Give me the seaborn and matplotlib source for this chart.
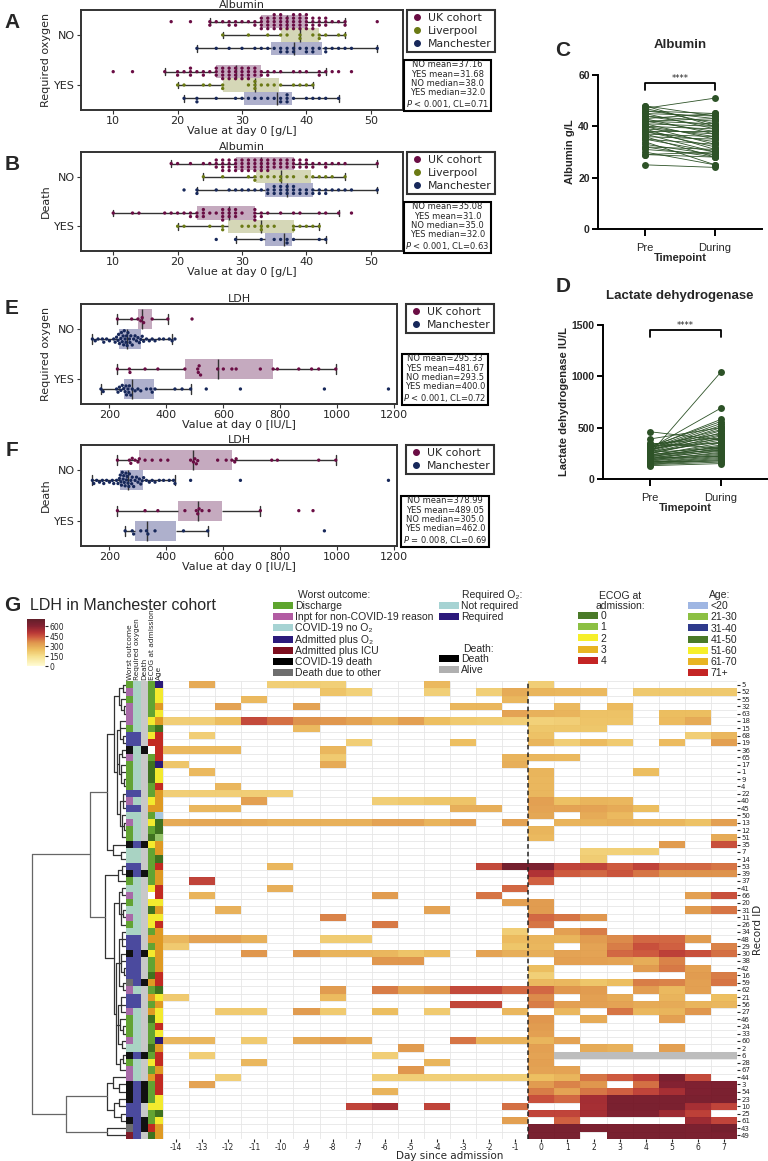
import numpy as np
import pandas as pd
import matplotlib
matplotlib.use('Agg')
import matplotlib.pyplot as plt
import seaborn as sns
from matplotlib.colors import LinearSegmentedColormap, ListedColormap
from matplotlib.patches import Patch
from matplotlib.lines import Line2D

sns.set_theme(style='ticks')
plt.rcParams['font.family'] = ['DejaVu Sans']

# ---------------- data: albumin day 0 (value: count) ----------------
alb_oxy = {
    ('NO', 'UK cohort'): {19: 1, 22: 1, 25: 2, 26: 1, 27: 1, 28: 2, 29: 2, 30: 1, 31: 1, 32: 2, 33: 4, 34: 4, 35: 5,
                          36: 5, 37: 4, 38: 5, 39: 5, 40: 5, 41: 4, 42: 3, 43: 3, 44: 1, 45: 1, 46: 2, 51: 1},
    ('NO', 'Liverpool'): {27: 1, 31: 1, 34: 1, 36: 1, 37: 1, 39: 2, 41: 1, 42: 2, 43: 1, 45: 1, 46: 1},
    ('NO', 'Manchester'): {23: 1, 26: 1, 28: 1, 30: 1, 32: 1, 33: 1, 34: 1, 35: 1, 36: 2, 37: 2, 38: 2, 39: 1, 40: 2,
                           41: 2, 42: 1, 43: 2, 44: 1, 45: 1, 46: 1, 47: 1, 51: 1},
    ('YES', 'UK cohort'): {10: 1, 13: 1, 18: 1, 20: 2, 21: 1, 22: 3, 23: 1, 24: 2, 25: 1, 26: 3, 27: 4, 28: 4, 29: 4,
                           30: 4, 31: 4, 32: 3, 33: 2, 34: 2, 35: 1, 36: 1, 38: 1, 39: 1, 40: 1, 42: 2, 43: 1, 44: 1,
                           45: 1, 47: 1},
    ('YES', 'Liverpool'): {20: 1, 21: 1, 24: 1, 25: 1, 27: 2, 31: 1, 32: 3, 33: 1, 34: 1, 35: 1, 36: 1, 38: 1, 39: 1,
                           40: 1, 41: 1},
    ('YES', 'Manchester'): {21: 1, 23: 2, 26: 1, 29: 1, 30: 1, 31: 1, 32: 1, 33: 1, 34: 1, 35: 1, 36: 2, 37: 3, 38: 1,
                            40: 1, 41: 1, 42: 1, 43: 1, 45: 1},
}
alb_death = {
    ('NO', 'UK cohort'): {19: 1, 20: 1, 22: 1, 24: 1, 25: 1, 26: 3, 27: 4, 28: 4, 29: 4, 30: 4, 31: 4, 32: 4, 33: 4,
                          34: 4, 35: 3, 36: 3, 37: 3, 38: 3, 39: 3, 40: 3, 41: 2, 42: 1, 43: 2, 44: 1, 45: 1, 46: 1, 51: 1},
    ('NO', 'Liverpool'): {24: 1, 27: 1, 31: 1, 32: 2, 33: 1, 34: 1, 35: 1, 36: 2, 37: 1, 38: 1, 40: 1, 41: 1, 42: 1,
                          43: 1, 44: 1, 46: 1},
    ('NO', 'Manchester'): {21: 1, 23: 2, 26: 1, 28: 1, 29: 1, 30: 1, 31: 1, 32: 1, 33: 1, 34: 2, 35: 3, 36: 3, 37: 3,
                           38: 3, 39: 2, 40: 2, 41: 2, 42: 2, 43: 2, 44: 1, 45: 1, 46: 1, 47: 1, 51: 1},
    ('YES', 'UK cohort'): {10: 1, 13: 1, 14: 1, 18: 1, 19: 1, 20: 1, 21: 1, 22: 2, 23: 2, 24: 3, 25: 1, 26: 1, 27: 4,
                           28: 3, 29: 3, 30: 1, 32: 4, 33: 2, 34: 1, 36: 1, 38: 1, 39: 1, 42: 1, 43: 1, 45: 1, 47: 1},
    ('YES', 'Liverpool'): {20: 1, 21: 1, 25: 1, 27: 2, 30: 1, 31: 1, 32: 1, 33: 2, 34: 1, 35: 1, 38: 2, 39: 1, 40: 1,
                           41: 1, 42: 1},
    ('YES', 'Manchester'): {26: 1, 29: 1, 33: 1, 35: 1, 36: 1, 37: 2, 38: 1, 42: 1, 43: 1},
}

# ---------------- data: LDH day 0 ----------------
ldh_oxy = {
    ('NO', 'UK cohort'): [228, 278, 300, 310, 315, 320, 350, 405, 490],
    ('NO', 'Manchester'): [140, 150, 160, 175, 180, 190, 200, 215, 220, 225, 230, 232, 235, 240, 242, 245, 248, 250,
                           252, 255, 258, 260, 262, 265, 270, 272, 275, 280, 285, 290, 295, 300, 305, 310, 315, 320,
                           330, 340, 350, 360, 375, 390, 410, 420, 430],
    ('YES', 'UK cohort'): [228, 270, 272, 325, 370, 465, 510, 512, 515, 520, 580, 600, 630, 645, 730, 775, 790, 865,
                           910, 935, 995],
    ('YES', 'Manchester'): [170, 178, 225, 230, 235, 240, 245, 250, 255, 258, 260, 265, 268, 270, 275, 280, 290, 300,
                            310, 330, 345, 350, 360, 430, 455, 485, 540, 660, 955, 1180],
}
ldh_death = {
    ('NO', 'UK cohort'): [228, 270, 275, 280, 290, 300, 305, 325, 350, 380, 405, 485, 495, 500, 505, 510, 580, 610,
                          630, 640, 645, 770, 790, 935, 995],
    ('NO', 'Manchester'): [140, 145, 155, 165, 175, 180, 190, 200, 210, 215, 225, 230, 235, 238, 240, 242, 245, 248,
                           250, 252, 255, 258, 260, 262, 265, 268, 270, 275, 278, 280, 285, 290, 295, 300, 305, 310,
                           315, 320, 330, 340, 350, 360, 375, 390, 410, 425, 430, 485, 660, 1180],
    ('YES', 'UK cohort'): [228, 325, 370, 465, 505, 510, 515, 525, 550, 730, 865, 915],
    ('YES', 'Manchester'): [255, 280, 285, 310, 330, 335, 360, 460, 545, 955],
}

stats_a = "NO mean=37.16\nYES mean=31.68\nNO median=38.0\nYES median=32.0\n$P$ < 0.001, CL=0.71"
stats_b = "NO mean=35.08\nYES mean=31.0\nNO median=35.0\nYES median=32.0\n$P$ < 0.001, CL=0.63"
stats_e = "NO mean=295.33\nYES mean=481.67\nNO median=293.5\nYES median=400.0\n$P$ < 0.001, CL=0.72"
stats_f = "NO mean=378.99\nYES mean=489.05\nNO median=305.0\nYES median=462.0\n$P$ = 0.008, CL=0.69"

# ---------------- data: paired pre / during ----------------
alb_pre = [25, 29, 29, 30, 31, 32, 32, 33, 34, 35, 35, 36, 36, 37, 37, 38, 38, 38, 39, 39, 40, 40, 40, 41, 41, 42,
           42, 42, 43, 43, 44, 44, 45, 45, 46, 46, 47, 47, 48, 48]
alb_during = [24, 28, 30, 25, 29, 28, 31, 29, 25, 30, 33, 28, 35, 30, 36, 32, 38, 34, 31, 37, 33, 39, 36, 40, 35, 38,
              43, 41, 37, 45, 40, 42, 39, 44, 43, 45, 51, 41, 40, 44]
ldh_pre = [130, 140, 145, 150, 155, 160, 165, 170, 175, 180, 185, 190, 195, 200, 205, 210, 215, 220, 225, 230, 235,
           240, 245, 250, 255, 260, 265, 270, 275, 280, 285, 290, 295, 300, 305, 310, 315, 320, 330, 340, 350, 390,
           460, 250, 300]
ldh_during = [150, 165, 180, 190, 200, 210, 220, 175, 230, 240, 260, 250, 280, 300, 220, 270, 320, 290, 310, 350, 330,
              280, 400, 380, 420, 300, 450, 360, 470, 500, 430, 520, 390, 540, 480, 580, 560, 350, 440, 400, 300, 500,
              380, 1040, 690]

# ---------------- data: LDH heatmap (Manchester) ----------------
days = list(range(-14, 8))
record_ids = [5, 52, 55, 32, 63, 18, 15, 68, 19, 36, 65, 17, 1, 9, 4, 22, 40, 45, 50, 13, 12, 51, 35, 7, 14, 53, 39,
              37, 41, 66, 20, 31, 11, 26, 34, 48, 29, 30, 38, 42, 16, 59, 62, 21, 56, 27, 46, 24, 33, 60, 2, 6, 28,
              67, 44, 3, 54, 23, 10, 25, 61, 43, 49]
ldh_cells = {
    5: {-13: 300, -10: 200, -9: 200, -8: 200, -4: 265, 0: 205},
    52: {-8: 235, -7: 195, -4: 200, -2: 200, -1: 300, 0: 275, 1: 270, 2: 265, 4: 220, 5: 220, 6: 220, 7: 220},
    55: {-11: 265, -1: 270},
    32: {-12: 320, -9: 320, -3: 270, -2: 270, 1: 265, 3: 260},
    63: {-1: 320, 0: 285, 1: 280, 2: 240, 3: 240, 5: 255, 6: 255},
    18: {-14: 205, -13: 205, -12: 255, -11: 470, -10: 410, -9: 360, -8: 350, -7: 320, -6: 280, -5: 330, -4: 250,
         -3: 215, -2: 210, -1: 205, 0: 195, 1: 205, 2: 235, 3: 235, 5: 260, 6: 300},
    15: {-9: 265, 0: 225, 1: 225, 2: 225},
    68: {-13: 205, 0: 240, 6: 205, 7: 270},
    19: {-7: 205, -3: 250, 0: 275, 1: 205, 2: 260, 3: 215, 5: 260, 7: 330},
    36: {-14: 265, -13: 265, -12: 265, -8: 270},
    65: {-8: 215, -1: 280, 0: 270, 1: 265},
    17: {-14: 230, -8: 300, -1: 290},
    1: {-13: 265, 0: 275, 4: 255},
    9: {0: 270},
    4: {-12: 270, 0: 270},
    22: {-14: 205, -13: 205, -12: 205, -11: 205, -10: 205, 0: 270},
    40: {-11: 330, -6: 205, -5: 215, -4: 230, -3: 235, 0: 330, 1: 245, 2: 275, 3: 270},
    45: {-13: 270, -12: 270, -3: 290, -2: 290, 0: 320, 1: 320, 2: 320, 3: 300, 4: 255},
    50: {0: 310, 2: 300, 3: 265},
    13: {-14: 300, -13: 310, -12: 310, -11: 300, -10: 285, -9: 285, -8: 285, -7: 285, -6: 320, -5: 320, -4: 280,
         -3: 330, -1: 320, 1: 280, 2: 280, 3: 285, 4: 275, 5: 270, 6: 240, 7: 330},
    12: {0: 275},
    51: {0: 265, 7: 300},
    35: {5: 340, 7: 460},
    7: {2: 195, 3: 195, 4: 200},
    14: {2: 210},
    53: {-10: 270, -2: 470, -1: 650, 0: 630, 1: 480, 2: 485, 3: 440, 4: 480, 5: 420, 6: 420, 7: 400},
    39: {0: 520, 1: 440, 2: 420, 3: 450, 4: 400, 5: 360, 6: 360, 7: 360},
    37: {-13: 480, 0: 430},
    41: {-10: 290, -1: 420},
    66: {-13: 280, -6: 340, -2: 400, 6: 330, 7: 460},
    20: {-1: 330, 0: 340},
    31: {-12: 285, -4: 320, 0: 340, 6: 340, 7: 400},
    11: {-8: 380, 0: 420, 1: 400, 2: 350},
    26: {-6: 395, 0: 400},
    34: {-1: 205, 1: 330, 2: 390},
    48: {-14: 270, -13: 320, -12: 320, -11: 285, -8: 210, -7: 210, -1: 260, 0: 280, 1: 275, 2: 340, 3: 370,
         4: 420, 5: 420, 6: 340},
    29: {-14: 215, -1: 230, 0: 270, 2: 320, 3: 390, 4: 460, 5: 430, 7: 380},
    30: {-11: 350, -9: 345, -8: 280, -7: 280, -6: 270, -5: 235, -4: 260, -2: 320, -1: 290, 0: 290, 1: 320, 2: 320,
         3: 420, 4: 440, 5: 490, 6: 460, 7: 410},
    38: {-6: 350, -5: 350, 1: 330, 2: 330, 3: 320, 4: 295, 5: 380},
    42: {0: 255, 4: 340, 5: 395, 6: 330},
    16: {0: 200, 6: 340, 7: 390},
    59: {0: 265, 1: 270, 2: 230, 3: 255, 4: 390, 5: 380, 6: 330, 7: 400},
    62: {-8: 340, -6: 390, -5: 320, -4: 350, -3: 470, -2: 470, -1: 420, 0: 420, 1: 350, 2: 340, 4: 335, 5: 265,
         6: 330},
    21: {-14: 215, -8: 260, 0: 370, 2: 330, 3: 300, 5: 280, 7: 250},
    56: {-3: 475, -2: 475, 0: 390, 1: 330, 2: 330, 3: 320, 4: 300, 5: 300, 6: 275, 7: 270},
    27: {-12: 215, -11: 215, -9: 340, -8: 215, -6: 255, -4: 215, -1: 270, 1: 270, 3: 400, 4: 270, 5: 275, 6: 350},
    46: {0: 350, 2: 300, 5: 330},
    24: {0: 340},
    33: {0: 330},
    60: {-14: 270, -13: 270, -11: 215, -9: 300, -8: 330, -7: 300, -3: 400, -2: 280, -1: 280, 0: 275, 1: 320},
    2: {-5: 340, 0: 330, 2: 300, 3: 285, 5: 330},
    6: {-13: 205, -6: 205, 0: 320},
    28: {-11: 270, -4: 275, 0: 330},
    67: {-5: 350, 0: 320, 1: 320},
    44: {-12: 205, -6: 200, -5: 200, -4: 200, -3: 200, -2: 200, -1: 200, 0: 250, 1: 275, 2: 400, 3: 440, 4: 490,
         5: 630, 6: 470},
    3: {-13: 320, 0: 340, 1: 380, 2: 350, 4: 410, 5: 610, 6: 620, 7: 625},
    54: {-6: 280, 0: 390, 1: 320, 2: 400, 3: 430, 4: 480, 5: 540, 6: 620, 7: 630},
    23: {0: 460, 1: 420, 2: 545, 3: 630, 4: 630, 5: 630, 6: 630, 7: 630},
    10: {-7: 480, -6: 540, -4: 480, -1: 410, 2: 540, 3: 635, 4: 635, 5: 630, 6: 540, 7: 480},
    25: {0: 480, 1: 480, 2: 545, 3: 620, 4: 620, 5: 560, 6: 490},
    61: {-1: 330, 1: 430, 6: 560, 7: 480},
    43: {0: 640, 1: 640, 2: 630, 3: 630, 4: 640, 5: 640, 6: 630, 7: 650},
    49: {0: 640, 1: 640, 3: 640, 4: 640, 5: 640, 6: 630, 7: 630},
}
ldh_grey_cells = {6: [1, 2, 3, 4, 5, 6, 7]}

worst_outcome = ['Dis', 'Inpt', 'Dis', 'Inpt', 'Inpt', 'Inpt', 'Dis', 'O2', 'O2', 'Death', 'Inpt', 'Dis', 'Dis', 'Dis',
                 'Dis', 'O2', 'Inpt', 'O2', 'NoO2', 'Inpt', 'Dis', 'Dis', 'Death', 'NoO2', 'NoO2', 'O2', 'Death', 'Dis',
                 'NoO2', 'Inpt', 'Dis', 'NoO2', 'Inpt', 'Dis', 'NoO2', 'O2', 'O2', 'Death', 'O2', 'O2', 'O2', 'Other',
                 'Inpt', 'O2', 'O2', 'Inpt', 'Dis', 'Dis', 'Dis', 'Inpt', 'NoO2', 'Death', 'Dis', 'Inpt', 'Inpt',
                 'Death', 'Death', 'Death', 'O2', 'O2', 'Death', 'Other', 'ICU']
required_o2 = ['N', 'N', 'N', 'N', 'N', 'N', 'N', 'Y', 'Y', 'N', 'N', 'N', 'N', 'N', 'N', 'Y', 'N', 'Y', 'N', 'N', 'N',
               'N', 'Y', 'N', 'N', 'Y', 'Y', 'N', 'N', 'N', 'N', 'N', 'N', 'N', 'N', 'Y', 'Y', 'Y', 'Y', 'Y', 'Y', 'Y',
               'N', 'Y', 'Y', 'N', 'N', 'N', 'N', 'N', 'N', 'Y', 'N', 'N', 'N', 'Y', 'Y', 'Y', 'Y', 'Y', 'Y', 'Y', 'Y']
death = ['A', 'A', 'A', 'A', 'A', 'A', 'A', 'A', 'A', 'D', 'A', 'A', 'A', 'A', 'A', 'A', 'A', 'A', 'A', 'A', 'A', 'A',
         'D', 'A', 'A', 'A', 'D', 'A', 'A', 'A', 'A', 'A', 'A', 'A', 'A', 'A', 'A', 'D', 'A', 'A', 'A', 'D', 'A', 'A',
         'A', 'A', 'A', 'A', 'A', 'A', 'A', 'D', 'A', 'A', 'A', 'D', 'D', 'D', 'A', 'A', 'D', 'D', 'A']
ecog = ['1', '1', '1', '1', '1', '2', '1', '2', '4', 'na', '1', '0', '0', '0', '1', '1', '2', '3', '1', '2', '1', '0',
        '2', '1', '1', '1', '1', '1', '2', 'na', '2', '0', '2', '2', '1', '3', '1', '2', '1', '1', '0', '3', '1', '3',
        '1', '3', '0', '1', '1', '1', '0', '1', '2', '1', '3', '1', '1', '1', '2', '1', '1', '4', '0']
age = ['31-40', '51-60', '51-60', '61-70', '51-60', '61-70', '41-50', '71+', '71+', '71+', '71+', '31-40', '51-60',
       '51-60', '71+', '61-70', '61-70', '61-70', '<20', '41-50', '41-50', '21-30', '61-70', '61-70', '41-50', '71+',
       '61-70', '61-70', '71+', '71+', '51-60', '61-70', '51-60', '71+', '61-70', '61-70', '61-70', '61-70', '61-70',
       '61-70', '71+', '71+', '41-50', '51-60', '61-70', '51-60', '51-60', '71+', '51-60', '31-40', '61-70', '71+',
       '71+', '61-70', '71+', '71+', '71+', '51-60', '51-60', '41-50', '51-60', '61-70', '61-70']

# dendrogram: [height, children...], leaves are row positions
row_tree = [94,
            [36,
             [19,
              [12,
               [7, [3, 0, 1], [5, 2, [2, 3, 4]]],
               [9, [6, 5, 6, [3, 7, 8]], [7, [4, 9, 10], [5, 11, 12, [2, 13, 14]]],
                [6, [3, 15, 16, 17], [4, 18, [2, 19, 20], 21]]]],
              [13, 22, [5, 23, 24]]],
             [21,
              [8, [4, 25, 26], 27],
              [12,
               [7, [4, 28, 29], [5, 30, [3, 31, 32], 33]],
               [10,
                [7, [4, 34, 35, 36], [5, 37, 38, [2, 39, 40]], [3, 41, 42]],
                [8, [5, 43, 44, 45], [6, 46, [3, 47, 48]], [4, 49, 50]],
                [6, [3, 51, 52], 53]]]]],
            [60,
             [19, [13, 54, [7, 55, 56]], [12, [7, 57, 58], [5, 59, 60]]],
             [19, 61, 62]]]

# ---------------- colours ----------------
dot_pal = {'UK cohort': '#6a0d44', 'Liverpool': '#6b7a14', 'Manchester': '#17285a'}
box_pal = {'UK cohort': '#c9a6c2', 'Liverpool': '#d9dcb2', 'Manchester': '#a9abd1'}
green = '#2d5227'
arial = ['Liberation Sans', 'DejaVu Sans']

fig = plt.figure(figsize=(7.68, 11.61), dpi=100)


def px(x0, y0, x1, y1):
    return [x0 / 768, 1 - y1 / 1161, (x1 - x0) / 768, (y1 - y0) / 1161]


def fpos(x, y):
    return (x / 768, 1 - y / 1161)


def to_frame(d):
    rows = []
    for (grp, coh), vals in d.items():
        if isinstance(vals, dict):
            vals = np.repeat(list(vals.keys()), list(vals.values()))
        for v in vals:
            rows.append((grp, coh, v))
    return pd.DataFrame(rows, columns=['grp', 'cohort', 'val'])


def box_swarm(rect, d, hues, xlim, xticks, title, ylabel, xlabel, stats, leg_xy, stats_xy):
    ax = fig.add_axes(px(*rect))
    df = to_frame(d)
    sns.boxplot(data=df, x='val', y='grp', hue='cohort', order=['NO', 'YES'], hue_order=hues,
                palette=box_pal, width=0.8, gap=0, whis=1.5, showfliers=False, linecolor='#333333',
                linewidth=1.0, boxprops={'edgecolor': 'none'}, legend=False, ax=ax)
    sns.swarmplot(data=df, x='val', y='grp', hue='cohort', order=['NO', 'YES'], hue_order=hues,
                  palette=dot_pal, dodge=True, size=2.4, linewidth=0, legend=False, ax=ax, warn_thresh=1)
    ax.set_xlim(*xlim)
    ax.set_ylim(1.5, -0.5)
    ax.set_xticks(xticks)
    ax.set_title(title, fontsize=8, pad=1.5)
    ax.set_ylabel(ylabel, fontsize=8, labelpad=2)
    ax.set_xlabel(xlabel, fontsize=8, labelpad=0)
    ax.tick_params(labelsize=8, length=3, width=0.8, pad=1.5, color='#333333')
    for s in ax.spines.values():
        s.set_linewidth(1.4)
        s.set_color('#333333')
    handles = [Line2D([], [], marker='o', ls='', color=dot_pal[h], markersize=4) for h in hues]
    leg = ax.legend(handles, hues, loc='upper left', bbox_to_anchor=fpos(*leg_xy),
                    bbox_transform=fig.transFigure, fontsize=7.8, frameon=True, fancybox=False,
                    borderpad=0.3, labelspacing=0.25, handletextpad=0.45, handlelength=1.2, borderaxespad=0)
    leg.get_frame().set_edgecolor('black')
    leg.get_frame().set_linewidth(1.5)
    fig.text(*fpos(*stats_xy), stats, fontsize=6.0, ha='center', va='center', linespacing=1.05,
             bbox=dict(boxstyle='square,pad=0.2', fc='white', ec='black', lw=1.5))
    return ax


box_swarm((81, 10, 403, 110), alb_oxy, ['UK cohort', 'Liverpool', 'Manchester'], (5, 55), [10, 20, 30, 40, 50],
          'Albumin', 'Required oxygen', 'Value at day 0 [g/L]', stats_a, (407, 10), (447.5, 85))
box_swarm((81, 152, 403, 251), alb_death, ['UK cohort', 'Liverpool', 'Manchester'], (5, 55), [10, 20, 30, 40, 50],
          'Albumin', 'Death', 'Value at day 0 [g/L]', stats_b, (407, 152), (447.5, 227))
box_swarm((81, 304, 397, 404), ldh_oxy, ['UK cohort', 'Manchester'], (100, 1210), [200, 400, 600, 800, 1000, 1200],
          'LDH', 'Required oxygen', 'Value at day 0 [IU/L]', stats_e, (406, 304), (445, 379))
box_swarm((81, 445, 397, 546), ldh_death, ['UK cohort', 'Manchester'], (100, 1210), [200, 400, 600, 800, 1000, 1200],
          'LDH', 'Death', 'Value at day 0 [IU/L]', stats_f, (406, 445), (445, 521))


# ---------------- paired plots (C, D) ----------------
def paired(rect, pre, during, ylim, yticks, title, ylabel, title_y, br, br_drop):
    ax = fig.add_axes(px(*rect))
    df = pd.DataFrame({'pair': np.r_[np.arange(len(pre)), np.arange(len(pre))],
                       'time': np.r_[np.zeros(len(pre)), np.ones(len(during))],
                       'val': np.r_[pre, during]})
    sns.lineplot(data=df, x='time', y='val', units='pair', estimator=None, color=green, lw=0.6,
                 marker='o', markersize=5, markeredgewidth=0, ax=ax)
    ax.set_xlim(-0.67, 1.67)
    ax.set_ylim(*ylim)
    ax.set_yticks(yticks)
    ax.set_xticks([0, 1])
    ax.set_xticklabels(['Pre', 'During'], family=arial, fontsize=8)
    for lab in ax.get_yticklabels():
        lab.set_fontweight('bold')
        lab.set_family(arial)
        lab.set_fontsize(7.5)
    ax.set_ylabel(ylabel, fontsize=8, fontweight='bold', family=arial, labelpad=2)
    ax.set_xlabel('Timepoint', fontsize=8, fontweight='bold', family=arial, labelpad=0)
    ax.tick_params(axis='x', length=5, width=1.4, pad=5, color='black')
    ax.tick_params(axis='y', length=4, width=1.4, pad=2, color='black')
    for s in ['top', 'right']:
        ax.spines[s].set_visible(False)
    for s in ['left', 'bottom']:
        ax.spines[s].set_linewidth(1.4)
        ax.spines[s].set_color('black')
    ax.plot([0, 0, 1, 1], [br - br_drop, br, br, br - br_drop], color='black', lw=1.3, clip_on=False)
    ax.text(0.5, br, '****', ha='center', va='bottom', fontsize=6)
    fig.text(680 / 768, 1 - title_y / 1161, title, ha='center', va='center', fontsize=9.5, fontweight='bold',
             family=arial)
    return ax


paired((598, 75, 762, 229), alb_pre, alb_during, (0, 60), [0, 20, 40, 60], 'Albumin', 'Albumin g/L', 45, 57, 3)
paired((603, 325, 768, 479), ldh_pre, ldh_during, (0, 1500), [0, 500, 1000, 1500], 'Lactate dehydrogenase',
       'Lactate dehydrogenase IU/L', 296, 1450, 70)

# panel letters
for letter, (x, y) in {'A': (12, 23), 'B': (12, 165), 'C': (563, 50), 'D': (563, 287), 'E': (12, 309),
                       'F': (12, 450), 'G': (12, 605)}.items():
    fig.text(*fpos(x, y), letter, fontsize=15, fontweight='bold', family=arial, ha='center', va='center')

# ---------------- G: heatmap ----------------
mat = pd.DataFrame(np.nan, index=record_ids, columns=days)
for rid, cells in ldh_cells.items():
    for d, v in cells.items():
        mat.loc[rid, d] = v
grey = pd.DataFrame(np.nan, index=record_ids, columns=days)
for rid, dd in ldh_grey_cells.items():
    for d in dd:
        grey.loc[rid, d] = 1

ldh_cmap = LinearSegmentedColormap.from_list('ldh', [(0.0, '#fffcd2'), (0.2, '#f6df85'), (0.35, '#ebb950'),
                                                     (0.5, '#dc8a3a'), (0.62, '#c9482a'), (0.72, '#ae1e1f'),
                                                     (0.85, '#780a1c'), (1.0, '#500612')])

hax = fig.add_axes(px(163, 681, 737, 1139))
cax = fig.add_axes(px(27, 619, 45, 666))
sns.heatmap(mat, cmap=ldh_cmap, vmin=0, vmax=710, ax=hax, cbar_ax=cax, xticklabels=days,
            yticklabels=record_ids, alpha=0.9)
sns.heatmap(grey, cmap=ListedColormap(['#bdbdbd']), cbar=False, ax=hax, xticklabels=days, yticklabels=record_ids)
hax.set_xticks(np.arange(len(days)) + 0.5, minor=False)
hax.set_xticks(np.arange(len(days) + 1), minor=True)
hax.set_yticks(np.arange(len(record_ids) + 1), minor=True)
hax.grid(which='minor', color='#e6e6e6', lw=0.6)
hax.set_axisbelow(True)
hax.tick_params(which='minor', length=0)
hax.yaxis.tick_right()
hax.tick_params(axis='y', labelsize=5, length=2, width=0.8, pad=1, rotation=0)
hax.tick_params(axis='x', labelsize=5.5, length=2, width=0.8, pad=1, rotation=0)
hax.set_xlabel('Day since admission', fontsize=7.5, labelpad=-0.5)
hax.set_ylabel('')
fig.text(*fpos(758, 930), 'Record ID', rotation=90, fontsize=7.5, ha='center', va='center')
hax.axvline(days.index(0), color='#222222', lw=1.1, ls=(0, (3, 2)))
cax.tick_params(labelsize=5.5, length=2, width=0.8, pad=1)
cax.set_yticks([0, 150, 300, 450, 600])
for s in hax.spines.values():
    s.set_visible(False)

# annotation strip
strip_pal = {
    'Dis': '#62a332', 'Inpt': '#a86aa8', 'NoO2': '#a9d3c3', 'O2': '#4b4a9e', 'ICU': '#7f1d2a', 'Death': '#111111',
    'Other': '#6e6e6e', 'N': '#a9d3c3', 'Y': '#4b4a9e', 'D': '#111111', 'A': '#c8c8c8',
    'e0': '#3f721f', 'e1': '#62a332', 'e2': '#f3ea2e', 'e3': '#df9a23', 'e4': '#c22a22', 'ena': '#ffffff',
    '<20': '#a8c8e0', '21-30': '#96c46a', '31-40': '#2b1a78', '41-50': '#3f721f', '51-60': '#f3ea2e',
    '61-70': '#df9a23', '71+': '#c22a22'}
keys = list(strip_pal.keys())
strip = pd.DataFrame({'Worst outcome': worst_outcome, 'Required oxygen': required_o2, 'Death': death,
                      'ECOG at admission': ['e' + e for e in ecog], 'Age': age})
codes = strip.apply(lambda c: c.map(keys.index))
sax = fig.add_axes(px(126, 681, 162.5, 1139))
sns.heatmap(codes, cmap=ListedColormap(list(strip_pal.values())), vmin=-0.5, vmax=len(keys) - 0.5, cbar=False,
            ax=sax, xticklabels=True, yticklabels=False)
sax.xaxis.tick_top()
sax.tick_params(axis='x', labelsize=5.3, rotation=90, length=0, pad=1)

# dendrogram
dax = fig.add_axes(px(30, 681, 126, 1139))


def draw_node(node):
    if isinstance(node, int):
        return node + 0.5, 0
    h = node[0]
    ys = []
    col = '#666666' if h > 30 else '#333333'
    for ch in node[1:]:
        cy, chh = draw_node(ch)
        dax.plot([chh, h], [cy, cy], color=col, lw=0.9)
        ys.append(cy)
    dax.plot([h, h], [min(ys), max(ys)], color=col, lw=0.9)
    return (min(ys) + max(ys)) / 2, h


ry, rh = draw_node(row_tree)
dax.set_xlim(rh + 2, 0)
dax.set_ylim(len(record_ids), 0)
dax.axis('off')

# G title and legends
fig.text(*fpos(30, 606), 'LDH in Manchester cohort', fontsize=11.5, family=arial, va='center')

worst_labels = ['Discharge', 'Inpt for non-COVID-19 reason', 'COVID-19 no O₂', 'Admitted plus O₂',
                'Admitted plus ICU', 'COVID-19 death', 'Death due to other']
worst_leg_cols = ['#5ea52e', '#b25ca3', '#a6d3d3', '#2c1a7c', '#7d0e1e', '#000000', '#6e6e6e']
o2_labels = ['Not required', 'Required']
o2_leg_cols = ['#a6d3d3', '#2c1a7c']
death_labels = ['Death', 'Alive']
death_leg_cols = ['#000000', '#b0b0b0']
ecog_labels = ['0', '1', '2', '3', '4']
ecog_leg_cols = ['#4a7a28', '#8cc043', '#f6ef2a', '#e8b423', '#c42424']
age_labels = ['<20', '21-30', '31-40', '41-50', '51-60', '61-70', '71+']
age_leg_cols = ['#9fb6e3', '#8cc043', '#2e3a8c', '#4a7a28', '#f6ef2a', '#e8b423', '#c42424']


def patch_legend(labels, cols, xy):
    handles = [Patch(facecolor=c, edgecolor='none') for c in cols]
    fig.legend(handles, labels, loc='upper left', bbox_to_anchor=fpos(*xy), frameon=False, borderpad=0,
               borderaxespad=0, handlelength=1.9, handleheight=0.65, handletextpad=0.25, labelspacing=0.12,
               prop={'family': arial, 'size': 7.5})


patch_legend(worst_labels, worst_leg_cols, (273, 601))
patch_legend(o2_labels, o2_leg_cols, (439, 601))
patch_legend(death_labels, death_leg_cols, (439, 654))
patch_legend(ecog_labels, ecog_leg_cols, (578, 611))
patch_legend(age_labels, age_leg_cols, (688, 601))
for txt, (x, y), ha in [('Worst outcome:', (298, 595), 'left'), ('Required O₂:', (462, 595), 'left'),
                        ('Death:', (463, 649), 'left'), ('ECOG at\nadmission:', (620, 601), 'center'),
                        ('Age:', (720, 595), 'center')]:
    fig.text(*fpos(x, y), txt, fontsize=7.5, family=arial, ha=ha, va='center', linespacing=1.0)

fig.savefig('out.png', dpi=100)
